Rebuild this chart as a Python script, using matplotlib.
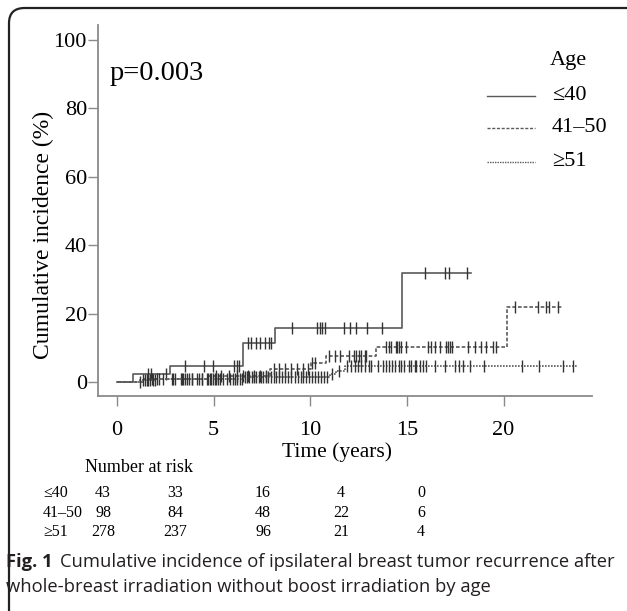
import numpy as np
import matplotlib
matplotlib.use("Agg")
import matplotlib.pyplot as plt
from matplotlib.patches import FancyBboxPatch

# ---- data ----
groups = ["\u226440", "41\u201350", "\u226551"]

le40_event_t = [0.83, 2.77, 6.5, 8.16, 14.75]
le40_ci = [2.3, 4.7, 11.3, 15.9, 31.8]
le40_end = 18.3
le40_cens = [1.6, 1.76, 2.56, 3.5, 4.5, 4.98, 6.05, 6.22, 6.3, 6.79, 6.96, 7.18, 7.42,
             7.65, 7.87, 7.99, 9.08, 10.37, 10.49, 10.63, 10.78, 11.74, 12.04, 12.35,
             12.94, 13.7, 15.95, 16.95, 17.17, 18.1]

mid_event_t = [1.4, 4.7, 7.9, 10.05, 10.8, 13.4, 20.2]
mid_ci = [1.0, 1.8, 3.7, 5.6, 7.5, 10.3, 21.8]
mid_end = 23.1
mid_cens = [1.8, 2.2, 2.9, 3.3, 3.9, 4.4, 5.1, 5.4, 5.8, 6.2, 6.5, 6.8, 7.1, 7.4, 7.7,
            8.1, 8.4, 8.7, 9.0, 9.3, 9.6, 9.9, 10.1, 10.23, 10.97, 11.27, 11.52, 12.0,
            12.25, 12.39, 12.52, 12.65, 12.82, 12.9, 13.9, 14.07, 14.2, 14.42, 14.49,
            14.59, 14.71, 14.97, 16.09, 16.26, 16.43, 16.69, 17.04, 17.12, 17.25, 17.35,
            18.16, 18.5, 18.85, 19.07, 19.45, 19.62, 20.57, 21.77, 22.21, 22.34, 22.81]

old_event_t = [1.2, 2.0, 6.5, 11.0, 11.35, 11.8]
old_ci = [0.5, 1.0, 1.5, 2.4, 3.3, 4.7]
old_end = 23.8
old_cens = [1.19, 1.33, 1.45, 1.53, 1.62, 1.71, 1.84, 1.96, 2.08, 2.4, 2.83, 3.0, 3.34,
            3.43, 3.51, 3.63, 3.74, 3.86, 4.12, 4.25, 4.38, 4.64, 4.72, 4.81, 4.89, 4.98,
            5.06, 5.15, 5.24, 5.32, 5.49, 5.67, 5.84, 6.01, 6.1, 6.19, 6.35, 6.45, 6.6,
            6.75, 6.85, 7.0, 7.1, 7.2, 7.35, 7.45, 7.55, 7.7, 7.8, 7.95, 8.1, 8.25, 8.4,
            8.55, 8.7, 8.85, 9.0, 9.2, 9.35, 9.5, 9.65, 9.8, 9.95, 10.1, 10.25, 10.4,
            10.55, 10.7, 10.85, 11.1, 11.5, 11.9, 12.1, 12.3, 12.45, 12.64, 12.81, 13.04,
            13.16, 13.5, 13.76, 13.9, 14.07, 14.24, 14.41, 14.59, 14.71, 14.85, 15.1,
            15.23, 15.4, 15.49, 15.66, 15.84, 16.0, 16.43, 16.95, 17.47, 17.72, 17.9,
            18.24, 19.0, 20.97, 21.82, 23.06, 23.58]

risk_le40 = [43, 33, 16, 4, 0]
risk_mid = [98, 84, 48, 22, 6]
risk_old = [278, 237, 96, 21, 4]

xticks = [0, 5, 10, 15, 20]
yticks = [0, 20, 40, 60, 80, 100]

# ---- figure ----
W, H = 627, 611
fig = plt.figure(figsize=(W / 100, H / 100), dpi=100)
serif = "Liberation Serif"
sans = "Open Sans"


def fx(px):
    return px / W


def fy(py):
    return 1 - py / H


# rounded frame around panel
frame = FancyBboxPatch((fx(9), fy(640)), fx(640), fy(8) - fy(640),
                       boxstyle="round,pad=0,rounding_size=0.025",
                       transform=fig.transFigure, fill=False, lw=1.6, ec="#222222")
fig.patches.append(frame)

ax = fig.add_axes([fx(98), fy(395.7), fx(591.7) - fx(98), fy(25) - fy(395.7)])
ax.set_xlim(-0.98, 24.56)
ax.set_ylim(-4.0, 104.4)
for s in ["top", "right"]:
    ax.spines[s].set_visible(False)
for s in ["left", "bottom"]:
    ax.spines[s].set_color("#8a8a8a")
    ax.spines[s].set_linewidth(1.3)
ax.set_xticks(xticks)
ax.set_yticks(yticks)
ax.tick_params(axis="both", colors="#8a8a8a", labelcolor="black", length=7, width=1.0,
               labelsize=16)
ax.tick_params(axis="x", pad=11)
ax.tick_params(axis="y", pad=1)
for lab in ax.get_xticklabels() + ax.get_yticklabels():
    lab.set_family(serif)

curves = [
    (le40_event_t, le40_ci, le40_end, le40_cens, "-"),
    (mid_event_t, mid_ci, mid_end, mid_cens, (0, (2.2, 1.2))),
    (old_event_t, old_ci, old_end, old_cens, (0, (1, 0.8))),
]
line_col = "#5a5a5a"
for ev, ci, end, cens, ls in curves:
    t = np.r_[0, ev, end]
    y = np.r_[0, ci, ci[-1]]
    ax.step(t, y, where="post", color=line_col, lw=1.2, linestyle=ls)
    idx = np.searchsorted(t, cens, side="right") - 1
    ax.plot(cens, y[idx], linestyle="none", marker="|", markersize=8,
            markeredgewidth=1.0, color="#333333")

# p value
fig.text(fx(110), fy(73), "p=0.003", family=serif, fontsize=20.5, va="center", ha="left")

# legend
fig.text(fx(550), fy(60), "Age", family=serif, fontsize=16, va="center", ha="left")
for (ev, ci, end, cens, ls), name, py in zip(curves, groups, [96, 128, 162]):
    fig.add_artist(plt.Line2D([fx(487), fx(535)], [fy(py), fy(py)], color=line_col,
                              lw=1.0, linestyle=ls, transform=fig.transFigure))
    fig.text(fx(552), fy(py), name, family=serif, fontsize=16, va="center", ha="left")

# axis labels
fig.text(fx(43), fy(235), "Cumulative incidence (%)", family=serif, fontsize=17,
         rotation=90, va="center", ha="center")
fig.text(fx(337), fy(452), "Time (years)", family=serif, fontsize=15.5,
         va="center", ha="center")

# number at risk table
fig.text(fx(85), fy(468), "Number at risk", family=serif, fontsize=13,
         va="center", ha="left")
fs_risk = 11.5
col_x = [103, 175, 263, 341, 421]
for name, row, py in zip(groups, [risk_le40, risk_mid, risk_old], [493, 513, 532]):
    fig.text(fx(43), fy(py), name, family=serif, fontsize=fs_risk, va="center", ha="left")
    for cx, v in zip(col_x, row):
        fig.text(fx(cx), fy(py), str(v), family=serif, fontsize=fs_risk,
                 va="center", ha="center")

# caption
cap_col = "#231f20"
fs_cap = 13.2
fig.text(fx(6), fy(562), "Fig. 1", family=sans, fontsize=fs_cap, fontweight="bold",
         va="center", ha="left", color=cap_col)
fig.text(fx(60), fy(562), "Cumulative incidence of ipsilateral breast tumor recurrence after",
         family=sans, fontsize=fs_cap, va="center", ha="left", color=cap_col)
fig.text(fx(6), fy(587), "whole-breast irradiation without boost irradiation by age",
         family=sans, fontsize=fs_cap, va="center", ha="left", color=cap_col)

fig.savefig("out.png", dpi=100)
